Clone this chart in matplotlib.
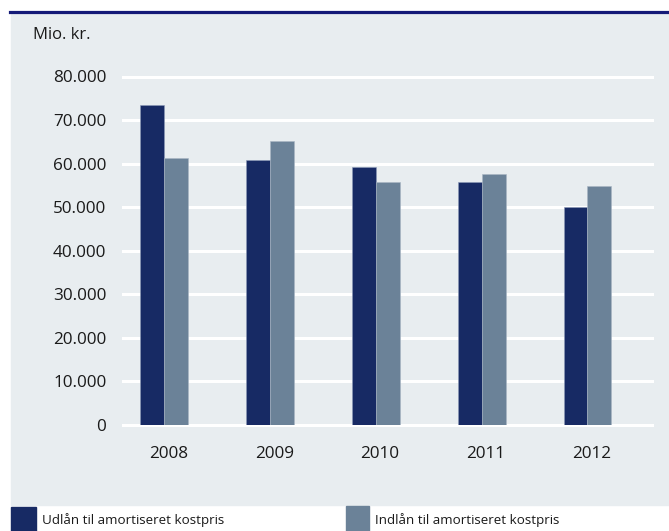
import matplotlib
matplotlib.use("Agg")
import matplotlib.pyplot as plt
from matplotlib.patches import Rectangle
from matplotlib.lines import Line2D
import numpy as np

plt.rcParams['font.family'] = ['Open Sans', 'DejaVu Sans']

years = ['2008', '2009', '2010', '2011', '2012']
udlaan = [73400, 60900, 59300, 55800, 50000]
indlaan = [61300, 65300, 55800, 57550, 54850]
yticks = [0, 10000, 20000, 30000, 40000, 50000, 60000, 70000, 80000]
ytick_labels = ['0', '10.000', '20.000', '30.000', '40.000', '50.000',
                '60.000', '70.000', '80.000']
legend_labels = ['Udlån til amortiseret kostpris', 'Indlån til amortiseret kostpris']

dark = '#172a64'
light = '#6b8298'
panel = '#e8edf0'
txt = '#1a1a1a'

W, H = 669, 531
fig = plt.figure(figsize=(W / 100, H / 100), dpi=100)
fig.patch.set_facecolor('white')

# grey panel behind the chart and the navy rule on top
fig.add_artist(Rectangle((11 / W, 1 - 505 / H), 1 - 11 / W, (505 - 13) / H,
                         transform=fig.transFigure, color=panel, zorder=0))
fig.add_artist(Line2D([10 / W, 1], [1 - 11.5 / H, 1 - 11.5 / H],
                      transform=fig.transFigure, color='#141a78', lw=2.3))

ax = fig.add_axes([123 / W, 1 - 425 / H, (652 - 123) / W, (425 - 76.5) / H])
ax.set_facecolor('none')

x = np.arange(len(years))
w = 0.226
for y in yticks:
    ax.axhline(y, color='white', lw=2.2, zorder=1, clip_on=False)
ax.bar(x - w / 2, udlaan, w, color=dark, edgecolor='#8d9ab8', lw=0.4, zorder=2)
ax.bar(x + w / 2, indlaan, w, color=light, edgecolor='#a9b6c4', lw=0.4, zorder=2)

ax.set_xlim(-0.39, 4.61)
ax.set_ylim(0, 80000)
for s in ax.spines.values():
    s.set_visible(False)
ax.set_yticks(yticks)
ax.set_yticklabels(ytick_labels, fontsize=12.3, color=txt)
ax.set_xticks(x + 0.04)
ax.set_xticklabels(years, fontsize=12.3, color=txt)
ax.tick_params(length=0)
ax.tick_params(axis='y', pad=12)
ax.tick_params(axis='x', pad=15)

fig.text(33 / W, 1 - 35 / H, 'Mio. kr.', fontsize=12, color=txt, va='center')

# legend along the bottom edge
fig.add_artist(Rectangle((11 / W, 0), 25 / W, 24 / H, transform=fig.transFigure,
                         color=dark, zorder=3))
fig.text(42 / W, 1 - 520 / H, legend_labels[0], fontsize=9.6, color=txt, va='center')
fig.add_artist(Rectangle((346 / W, 0), 23 / W, 25 / H, transform=fig.transFigure,
                         color=light, zorder=3))
fig.text(375 / W, 1 - 520 / H, legend_labels[1], fontsize=9.6, color=txt, va='center')

fig.savefig('out.png', dpi=100, facecolor='white')
